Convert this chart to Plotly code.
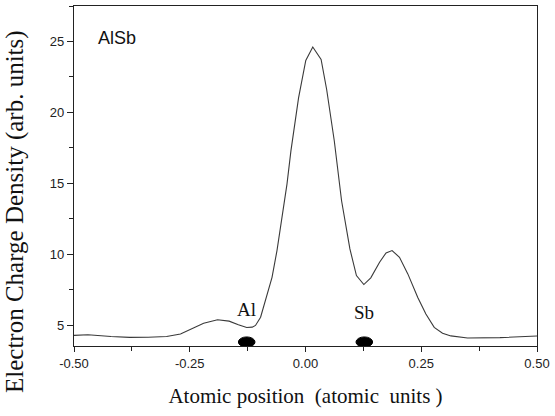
import plotly.graph_objects as go

# Curve data (atomic position vs electron charge density)
position = [-0.500, -0.470, -0.420, -0.380, -0.340, -0.300, -0.270, -0.245, -0.220, -0.190,
            -0.165, -0.145, -0.127, -0.115, -0.108, -0.097, -0.0865, -0.0723, -0.0616, -0.051,
            -0.040, -0.0315, -0.015, 0.0006, 0.0157, 0.0337, 0.0457, 0.0622, 0.0779, 0.0959,
            0.110, 0.126, 0.141, 0.160, 0.174, 0.187, 0.203, 0.221, 0.2425, 0.260,
            0.278, 0.296, 0.314, 0.350, 0.420, 0.500]
density = [4.30, 4.34, 4.22, 4.16, 4.17, 4.22, 4.40, 4.79, 5.15, 5.40,
           5.30, 5.05, 4.85, 4.88, 5.00, 5.58, 6.76, 8.39, 10.27, 12.61,
           14.95, 17.29, 21.03, 23.66, 24.61, 23.73, 21.62, 17.99, 13.78, 10.39,
           8.51, 7.88, 8.35, 9.45, 10.11, 10.27, 9.80, 8.63, 6.97, 5.80,
           4.86, 4.45, 4.26, 4.11, 4.14, 4.25]

# Atoms
atom_names = ["Al", "Sb"]
atom_x = [-0.127, 0.127]
atom_marker_y = 3.83
atom_label_y = [6.15, 5.90]

x_ticks = [-0.50, -0.25, 0.00, 0.25, 0.50]
x_ticklabels = ["-0.50", "-0.25", "0.00", "0.25", "0.50"]
y_ticks = [5, 10, 15, 20, 25]
y_ticklabels = ["5", "10", "15", "20", "25"]

fig = go.Figure()
fig.add_trace(go.Scatter(x=position, y=density, mode="lines",
                         line=dict(color="#3a3a3a", width=1.1),
                         showlegend=False, hoverinfo="skip"))

shapes = []
for ax in atom_x:
    shapes.append(dict(type="circle", xref="x", yref="y",
                       x0=ax - 0.018, x1=ax + 0.018,
                       y0=atom_marker_y - 0.36, y1=atom_marker_y + 0.36,
                       fillcolor="black", line=dict(color="black", width=1)))

annotations = []
for name, ax, ly in zip(atom_names, atom_x, atom_label_y):
    annotations.append(dict(x=ax, y=ly, xref="x", yref="y", text=name, showarrow=False,
                            font=dict(family="Liberation Serif", size=19, color="#111")))
annotations.append(dict(x=0.048, y=0.905, xref="paper", yref="paper", text="AlSb",
                        showarrow=False, xanchor="left", yanchor="middle",
                        font=dict(family="Liberation Sans", size=18, color="#111")))
# y-axis title (placed as rotated text, shifted down like the reference)
annotations.append(dict(x=-0.126, y=0.396, xref="paper", yref="paper",
                        text="Electron Charge Density (arb. units)", textangle=-90,
                        showarrow=False, xanchor="center", yanchor="middle",
                        font=dict(family="Liberation Serif", size=25, color="#111")))

fig.update_layout(
    width=555, height=416,
    margin=dict(l=74, r=14, t=5, b=70),
    paper_bgcolor="white", plot_bgcolor="white",
    shapes=shapes, annotations=annotations,
    xaxis=dict(range=[-0.5, 0.5], tickvals=x_ticks, ticktext=x_ticklabels,
               showgrid=False, zeroline=False, showline=True, linecolor="#222", linewidth=1.3,
               mirror=True, ticks="outside", ticklen=5, tickcolor="#222", tickwidth=1.2,
               minor=dict(ticks="outside", ticklen=4, tickcolor="#222", dtick=0.125, tick0=-0.5),
               tickfont=dict(family="Liberation Sans", size=13, color="#222"),
               title=dict(text="Atomic position  (atomic  units )", standoff=18,
                          font=dict(family="Liberation Serif", size=21, color="#111"))),
    yaxis=dict(range=[3.55, 27.5], tickvals=y_ticks, ticktext=y_ticklabels,
               showgrid=False, zeroline=False, showline=True, linecolor="#222", linewidth=1.3,
               mirror=True, ticks="outside", ticklen=6, tickcolor="#222", tickwidth=1.2,
               minor=dict(ticks="outside", ticklen=4, tickcolor="#222", dtick=2.5, tick0=0),
               tickfont=dict(family="Liberation Sans", size=13, color="#222")),
)

fig.write_html("out.html")
